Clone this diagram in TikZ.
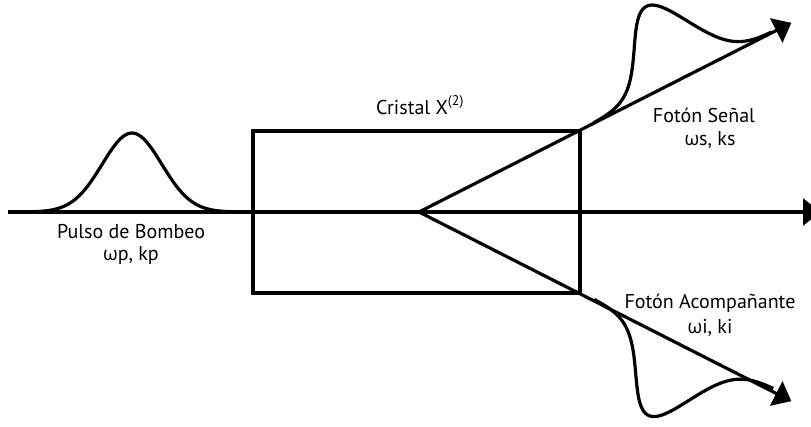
\documentclass[tikz,border=0pt]{standalone}
\usepackage{fontspec}
\setmainfont{PT Sans}
\newfontfamily\grk{Open Sans}
\newcommand{\om}{{\grk\fontsize{19}{24}\selectfont ω}}
\usetikzlibrary{arrows.meta,calc}
\tikzset{
  beam/.style={line width=3.2pt},
  beamarrow/.style={beam, -{Triangle[length=17pt,width=27pt]}},
  pulse/.style={line width=3.2pt, line join=round, smooth},
  lbl/.style={anchor=base, inner sep=0pt, font=\fontsize{20}{24}\selectfont},
}
\begin{document}
\begin{tikzpicture}[x=1pt,y=-1pt]
\useasboundingbox (0,0) rectangle (811,426);

% nonlinear crystal
\node[draw, beam, minimum width=327pt, minimum height=162pt, inner sep=0pt] (xtal) at (416.5,212) {};

% beams
\coordinate (pin) at (8,212);
\coordinate (pout) at (820,212);
\coordinate (v) at (419,212);
\coordinate (sEnd) at ($(v)!2.29!(xtal.north east)$);
\coordinate (iEnd) at ($(v)!2.29!(xtal.south east)$);

\draw[beamarrow] (pin) -- (pout);
\draw[beamarrow] (v) -- (sEnd);
\draw[beamarrow] (v) -- (iEnd);

% pump pulse
\draw[pulse] plot[domain=30:236, samples=90]
  (\x, {212-79*exp(-((\x-132)/42)*((\x-132)/42))});

% signal pulse, drawn along the upper beam
\draw[pulse] plot[domain=196:396, samples=90]
  ({419+0.891*\x-0.454*80*exp(-((\x-296)/42)*((\x-296)/42))},
   {212-0.454*\x-0.891*80*exp(-((\x-296)/42)*((\x-296)/42))});

% idler pulse, drawn along the lower beam
\draw[pulse] plot[domain=196:396, samples=90]
  ({419+0.895*\x-0.445*80*exp(-((\x-296)/42)*((\x-296)/42))},
   {212+0.445*\x+0.895*80*exp(-((\x-296)/42)*((\x-296)/42))});

% labels
\node[lbl] (xlab) at (420,114) {Cristal X\raisebox{1pt}{\textsuperscript{(2)}}};
\node[lbl] (sl1) at (704,122) {Fotón Señal};
\node[lbl] (sl2) at (710,145) {\om s, ks};
\node[lbl] (il1) at (710,308) {Fotón Acompañante};
\node[lbl] (il2) at (710,333) {\om i, ki};
\node[lbl] (pl1) at (131,238) {Pulso de Bombeo};
\node[lbl] (pl2) at (131,260) {\om p, kp};
\end{tikzpicture}
\end{document}
